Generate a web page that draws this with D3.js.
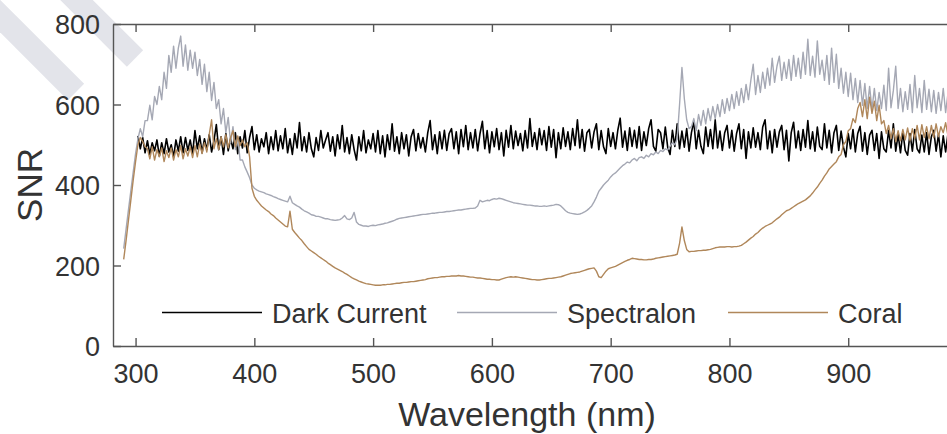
<!DOCTYPE html>
<html>
<head>
<meta charset="utf-8">
<script src="https://cdn.jsdelivr.net/npm/d3@7"></script>
<style>
  html, body { margin: 0; padding: 0; background: #fff; overflow: hidden; }
  svg { display: block; font-family: "Liberation Sans", Arial, Helvetica, sans-serif; }
</style>
</head>
<body>
<svg id="chart" width="947" height="434"></svg>
<script>
// Series names shown in the legend
const seriesNames = ["Dark Current", "Spectralon", "Coral"];

// Sampling of each spectrum (nm): first wavelength and spacing
const darkStart = 302;
const spectralonStart = 290;
const coralStart = 290;
const sampleStep = 2;

// Signal-to-noise ratio, dark current (302 nm upward, every 2 nm)
const darkCurrent = [
  522, 490, 518, 480, 510, 476, 505, 485, 512, 472,
  505, 478, 515, 482, 500, 470, 512, 484, 520, 480,
  518, 486, 512, 478, 535, 490, 522, 480, 515, 488,
  525, 482, 510, 550, 488, 520, 476, 528, 485, 515,
  490, 530, 478, 520, 492, 535, 480, 518, 545, 488,
  525, 482, 515, 495, 530, 478, 520, 488, 535, 485,
  522, 490, 540, 480, 515, 476, 528, 492, 555, 485,
  520, 482, 530, 490, 470, 518, 486, 535, 492, 512,
  530, 484, 520, 472, 525, 490, 548, 482, 518, 478,
  525, 488, 462, 520, 485, 535, 480, 512, 490, 528,
  482, 535, 478, 522, 470, 525, 488, 552, 484, 520,
  478, 530, 490, 525, 472, 520, 538, 485, 528, 492,
  518, 482, 530, 560, 488, 525, 478, 532, 490, 536,
  486, 528, 540, 490, 532, 478, 538, 495, 548, 488,
  530, 492, 538, 485, 528, 558, 490, 535, 480, 532,
  495, 540, 488, 530, 472, 536, 494, 548, 490, 534,
  498, 528, 485, 535, 492, 565, 496, 530, 488, 540,
  500, 535, 486, 545, 494, 538, 468, 530, 490, 542,
  496, 532, 488, 540, 498, 562, 492, 538, 484, 530,
  538, 492, 532, 552, 488, 535, 495, 478, 540, 496,
  530, 490, 536, 566, 494, 534, 486, 542, 496, 536,
  492, 545, 486, 532, 498, 540, 562, 496, 484, 538,
  530, 490, 544, 494, 476, 536, 496, 552, 490, 534,
  494, 540, 484, 530, 558, 490, 536, 496, 478, 544,
  496, 538, 490, 562, 492, 534, 486, 530, 548, 492,
  536, 484, 528, 552, 490, 538, 466, 532, 492, 542,
  494, 530, 488, 544, 562, 490, 534, 480, 538, 494,
  532, 548, 488, 536, 460, 530, 556, 492, 534, 486,
  538, 494, 560, 490, 532, 484, 544, 496, 488, 552,
  492, 536, 480, 530, 548, 486, 534, 494, 470, 528,
  490, 538, 482, 528, 546, 484, 530, 476, 524, 536,
  486, 528, 466, 532, 490, 482, 536, 492, 552, 484,
  526, 480, 532, 486, 474, 528, 484, 538, 490, 480,
  524, 482, 530, 476, 520, 536, 484, 526, 470, 522,
  482, 528, 490, 476, 530, 486, 524, 480, 526, 488
];

// Signal-to-noise ratio, Spectralon panel (290 nm upward, every 2 nm)
const spectralon = [
  242, 290, 338, 385, 432, 478, 515, 540, 520, 560,
  560, 598, 562, 620, 600, 645, 612, 680, 640, 722,
  680, 745, 690, 740, 770, 695, 748, 685, 735, 690,
  730, 672, 712, 650, 700, 632, 680, 610, 655, 590,
  612, 552, 590, 530, 568, 505, 545, 488, 520, 462,
  462, 445, 432, 418, 400, 392, 388, 385, 383, 381,
  378, 376, 374, 371, 369, 366, 364, 362, 360, 358,
  372, 356, 352, 348, 345, 340, 336, 333, 330, 326,
  325, 322, 322, 320, 318, 316, 316, 314, 313, 312,
  313, 314, 318, 324, 316, 314, 318, 332, 308, 302,
  300, 298, 298, 297, 299, 300, 299, 301, 302, 303,
  305, 306, 308, 310, 312, 315, 317, 318, 319, 320,
  321, 322, 323, 324, 325, 326, 327, 327, 328, 329,
  330, 330, 331, 332, 332, 333, 334, 334, 335, 336,
  337, 338, 338, 339, 340, 341, 342, 342, 343, 348,
  362, 358, 360, 362, 361, 364, 366, 365, 367, 366,
  364, 362, 360, 358, 356, 355, 354, 353, 352, 351,
  350, 350, 349, 348, 348, 347, 347, 348, 347, 348,
  349, 350, 352, 351, 348, 342, 336, 332, 330, 329,
  328, 327, 328, 330, 333, 337, 342, 348, 358, 370,
  384, 392, 400, 406, 412, 420, 426, 430, 436, 442,
  448, 452, 457, 455, 462, 466, 460, 468, 470, 466,
  474, 470, 478, 475, 482, 478, 486, 483, 490, 487,
  496, 505, 500, 515, 600, 692, 615, 562, 540, 545,
  565, 535, 575, 548, 585, 552, 590, 560, 595, 565,
  600, 570, 612, 578, 615, 585, 625, 590, 632, 598,
  640, 605, 650, 612, 660, 700, 625, 672, 630, 680,
  640, 690, 648, 715, 655, 695, 720, 660, 705, 665,
  712, 660, 722, 670, 715, 665, 730, 675, 762, 672,
  720, 668, 758, 675, 710, 660, 722, 650, 740, 655,
  725, 640, 690, 628, 680, 620, 678, 612, 665, 605,
  660, 598, 652, 590, 645, 588, 640, 585, 630, 590,
  648, 585, 690, 592, 635, 695, 590, 640, 582, 632,
  588, 650, 580, 672, 592, 640, 580, 660, 588, 638,
  582, 635, 578, 630, 585, 640, 580, 628, 588, 625
];

// Signal-to-noise ratio, coral sample (290 nm upward, every 2 nm)
const coral = [
  215, 262, 312, 362, 412, 458, 500, 518, 508, 495,
  490, 465, 495, 462, 488, 470, 492, 458, 485, 468,
  492, 462, 488, 470, 498, 465, 490, 472, 495, 468,
  498, 470, 502, 478, 505, 482, 525, 562, 490, 515,
  488, 520, 495, 525, 492, 518, 535, 495, 522, 498,
  512, 495, 505, 470, 392, 372, 362, 355, 348, 343,
  338, 334, 328, 324, 318, 313, 308, 303, 298, 296,
  335, 290, 282, 275, 268, 262, 254, 247, 240, 236,
  232, 228, 223, 219, 215, 211, 206, 202, 198, 194,
  191, 188, 185, 181, 178, 174, 170, 167, 164, 161,
  159, 157, 155, 154, 153, 152, 151, 151, 151, 152,
  152, 153, 153, 154, 155, 156, 156, 157, 158, 158,
  159, 160, 160, 161, 162, 163, 164, 165, 167, 168,
  169, 170, 170, 171, 172, 172, 173, 173, 174, 174,
  174, 175, 174, 174, 173, 172, 171, 171, 170, 169,
  169, 168, 167, 166, 166, 165, 165, 164, 164, 166,
  168, 170, 171, 172, 171, 172, 171, 170, 169, 168,
  167, 166, 165, 165, 164, 164, 165, 166, 167, 168,
  168, 169, 170, 171, 172, 174, 176, 178, 180, 181,
  182, 183, 184, 186, 188, 190, 192, 193, 194, 186,
  172, 170, 178, 186, 192, 194, 196, 198, 201, 204,
  207, 210, 213, 215, 218, 217, 216, 215, 215, 214,
  214, 215, 215, 216, 218, 219, 220, 221, 222, 223,
  224, 225, 226, 228, 255, 296, 262, 240, 234, 235,
  235, 236, 237, 237, 238, 238, 239, 240, 242, 244,
  245, 246, 246, 246, 247, 247, 246, 247, 247, 248,
  250, 254, 258, 263, 268, 272, 278, 282, 288, 293,
  297, 300, 303, 306, 311, 316, 320, 326, 331, 336,
  338, 342, 346, 350, 354, 357, 360, 363, 368, 373,
  380, 388, 395, 404, 412, 422, 430, 440, 446, 452,
  458, 470, 476, 500, 508, 535, 540, 565, 555, 590,
  605, 570, 612, 565, 618, 578, 608, 560, 598, 552,
  560, 528, 548, 515, 540, 508, 535, 510, 538, 512,
  542, 510, 540, 515, 548, 512, 550, 518, 545, 515,
  548, 518, 552, 520, 545, 530, 555, 522, 550, 528
];

// Axis ticks
const xTickValues = [300, 400, 500, 600, 700, 800, 900];
const yTickValues = [0, 200, 400, 600, 800];

const lineColors = ["#000000", "#a5a8b4", "#b0875a"];
const lineWidths = [1.6, 1.4, 1.4];
const seriesData = [
  { name: seriesNames[0], start: darkStart, values: darkCurrent, color: lineColors[0], width: lineWidths[0] },
  { name: seriesNames[1], start: spectralonStart, values: spectralon, color: lineColors[1], width: lineWidths[1] },
  { name: seriesNames[2], start: coralStart, values: coral, color: lineColors[2], width: lineWidths[2] }
];

const svg = d3.select("#chart");
const plot = { left: 113, top: 24, right: 967, bottom: 346 };

const x = d3.scaleLinear().domain([281, 1000]).range([plot.left, plot.right]);
const y = d3.scaleLinear().domain([0, 800]).range([plot.bottom, plot.top]);

// Faint diagonal ribbons in the upper-left corner
const ribbons = svg.append("g").attr("fill", "#e3e4ea");
ribbons.append("rect")
  .attr("transform", "translate(135,58.5) rotate(45)")
  .attr("x", -130).attr("y", -11.5).attr("width", 130).attr("height", 23);
ribbons.append("rect")
  .attr("transform", "translate(76,92) rotate(45)")
  .attr("x", -140).attr("y", -11.5).attr("width", 140).attr("height", 23);

// Clip for the spectra
svg.append("defs").append("clipPath").attr("id", "plot-clip")
  .append("rect")
  .attr("x", plot.left).attr("y", plot.top)
  .attr("width", plot.right - plot.left).attr("height", plot.bottom - plot.top);

const line = d3.line()
  .x(d => x(d.w))
  .y(d => y(d.v));

const linesG = svg.append("g").attr("clip-path", "url(#plot-clip)");
seriesData.forEach(s => {
  const pts = s.values.map((v, i) => ({ w: s.start + i * sampleStep, v }));
  linesG.append("path")
    .datum(pts)
    .attr("fill", "none")
    .attr("stroke", s.color)
    .attr("stroke-width", s.width)
    .attr("stroke-linejoin", "round")
    .attr("d", line);
});

// Axes with inward ticks on all four sides
const axisColor = "#555";
const textColor = "#333";

const bottomAxis = svg.append("g")
  .attr("transform", `translate(0,${plot.bottom})`)
  .call(d3.axisBottom(x).tickValues(xTickValues).tickSizeInner(-8).tickSizeOuter(0).tickFormat(d3.format("d")));
bottomAxis.selectAll("text")
  .attr("dy", null).attr("y", 37)
  .attr("font-size", 27).attr("fill", textColor);

const topAxis = svg.append("g")
  .attr("transform", `translate(0,${plot.top})`)
  .call(d3.axisTop(x).tickValues(xTickValues).tickSizeInner(-8).tickSizeOuter(0).tickFormat(""));

const leftAxis = svg.append("g")
  .attr("transform", `translate(${plot.left},0)`)
  .call(d3.axisLeft(y).tickValues(yTickValues).tickSizeInner(-8).tickSizeOuter(0).tickPadding(13).tickFormat(d3.format("d")));
leftAxis.selectAll("text")
  .attr("font-size", 27).attr("fill", textColor).attr("dy", "0.36em");

const rightAxis = svg.append("g")
  .attr("transform", `translate(${plot.right},0)`)
  .call(d3.axisRight(y).tickValues(yTickValues).tickSizeInner(-8).tickSizeOuter(0).tickFormat(""));

[bottomAxis, topAxis, leftAxis, rightAxis].forEach(g => {
  g.select(".domain").attr("stroke", axisColor).attr("stroke-width", 1.4);
  g.selectAll(".tick line").attr("stroke", axisColor).attr("stroke-width", 1.4);
  g.selectAll("text").attr("font-family", "'Liberation Sans', Arial, sans-serif");
});

// Axis titles
svg.append("text")
  .attr("x", 527).attr("y", 426)
  .attr("text-anchor", "middle")
  .attr("font-size", 34).attr("fill", textColor)
  .text("Wavelength (nm)");

svg.append("text")
  .attr("transform", `translate(42,${(plot.top + plot.bottom) / 2}) rotate(-90)`)
  .attr("text-anchor", "middle")
  .attr("font-size", 35).attr("fill", textColor)
  .text("SNR");

// Legend along the bottom of the plot
const legendX = [162, 457, 728];
const legend = svg.append("g");
seriesData.forEach((s, i) => {
  legend.append("line")
    .attr("x1", legendX[i]).attr("x2", legendX[i] + 100)
    .attr("y1", 312.5).attr("y2", 312.5)
    .attr("stroke", s.color).attr("stroke-width", 1.5);
  legend.append("text")
    .attr("x", legendX[i] + 110).attr("y", 323)
    .attr("font-size", 27).attr("fill", textColor)
    .text(s.name);
});
</script>
</body>
</html>
